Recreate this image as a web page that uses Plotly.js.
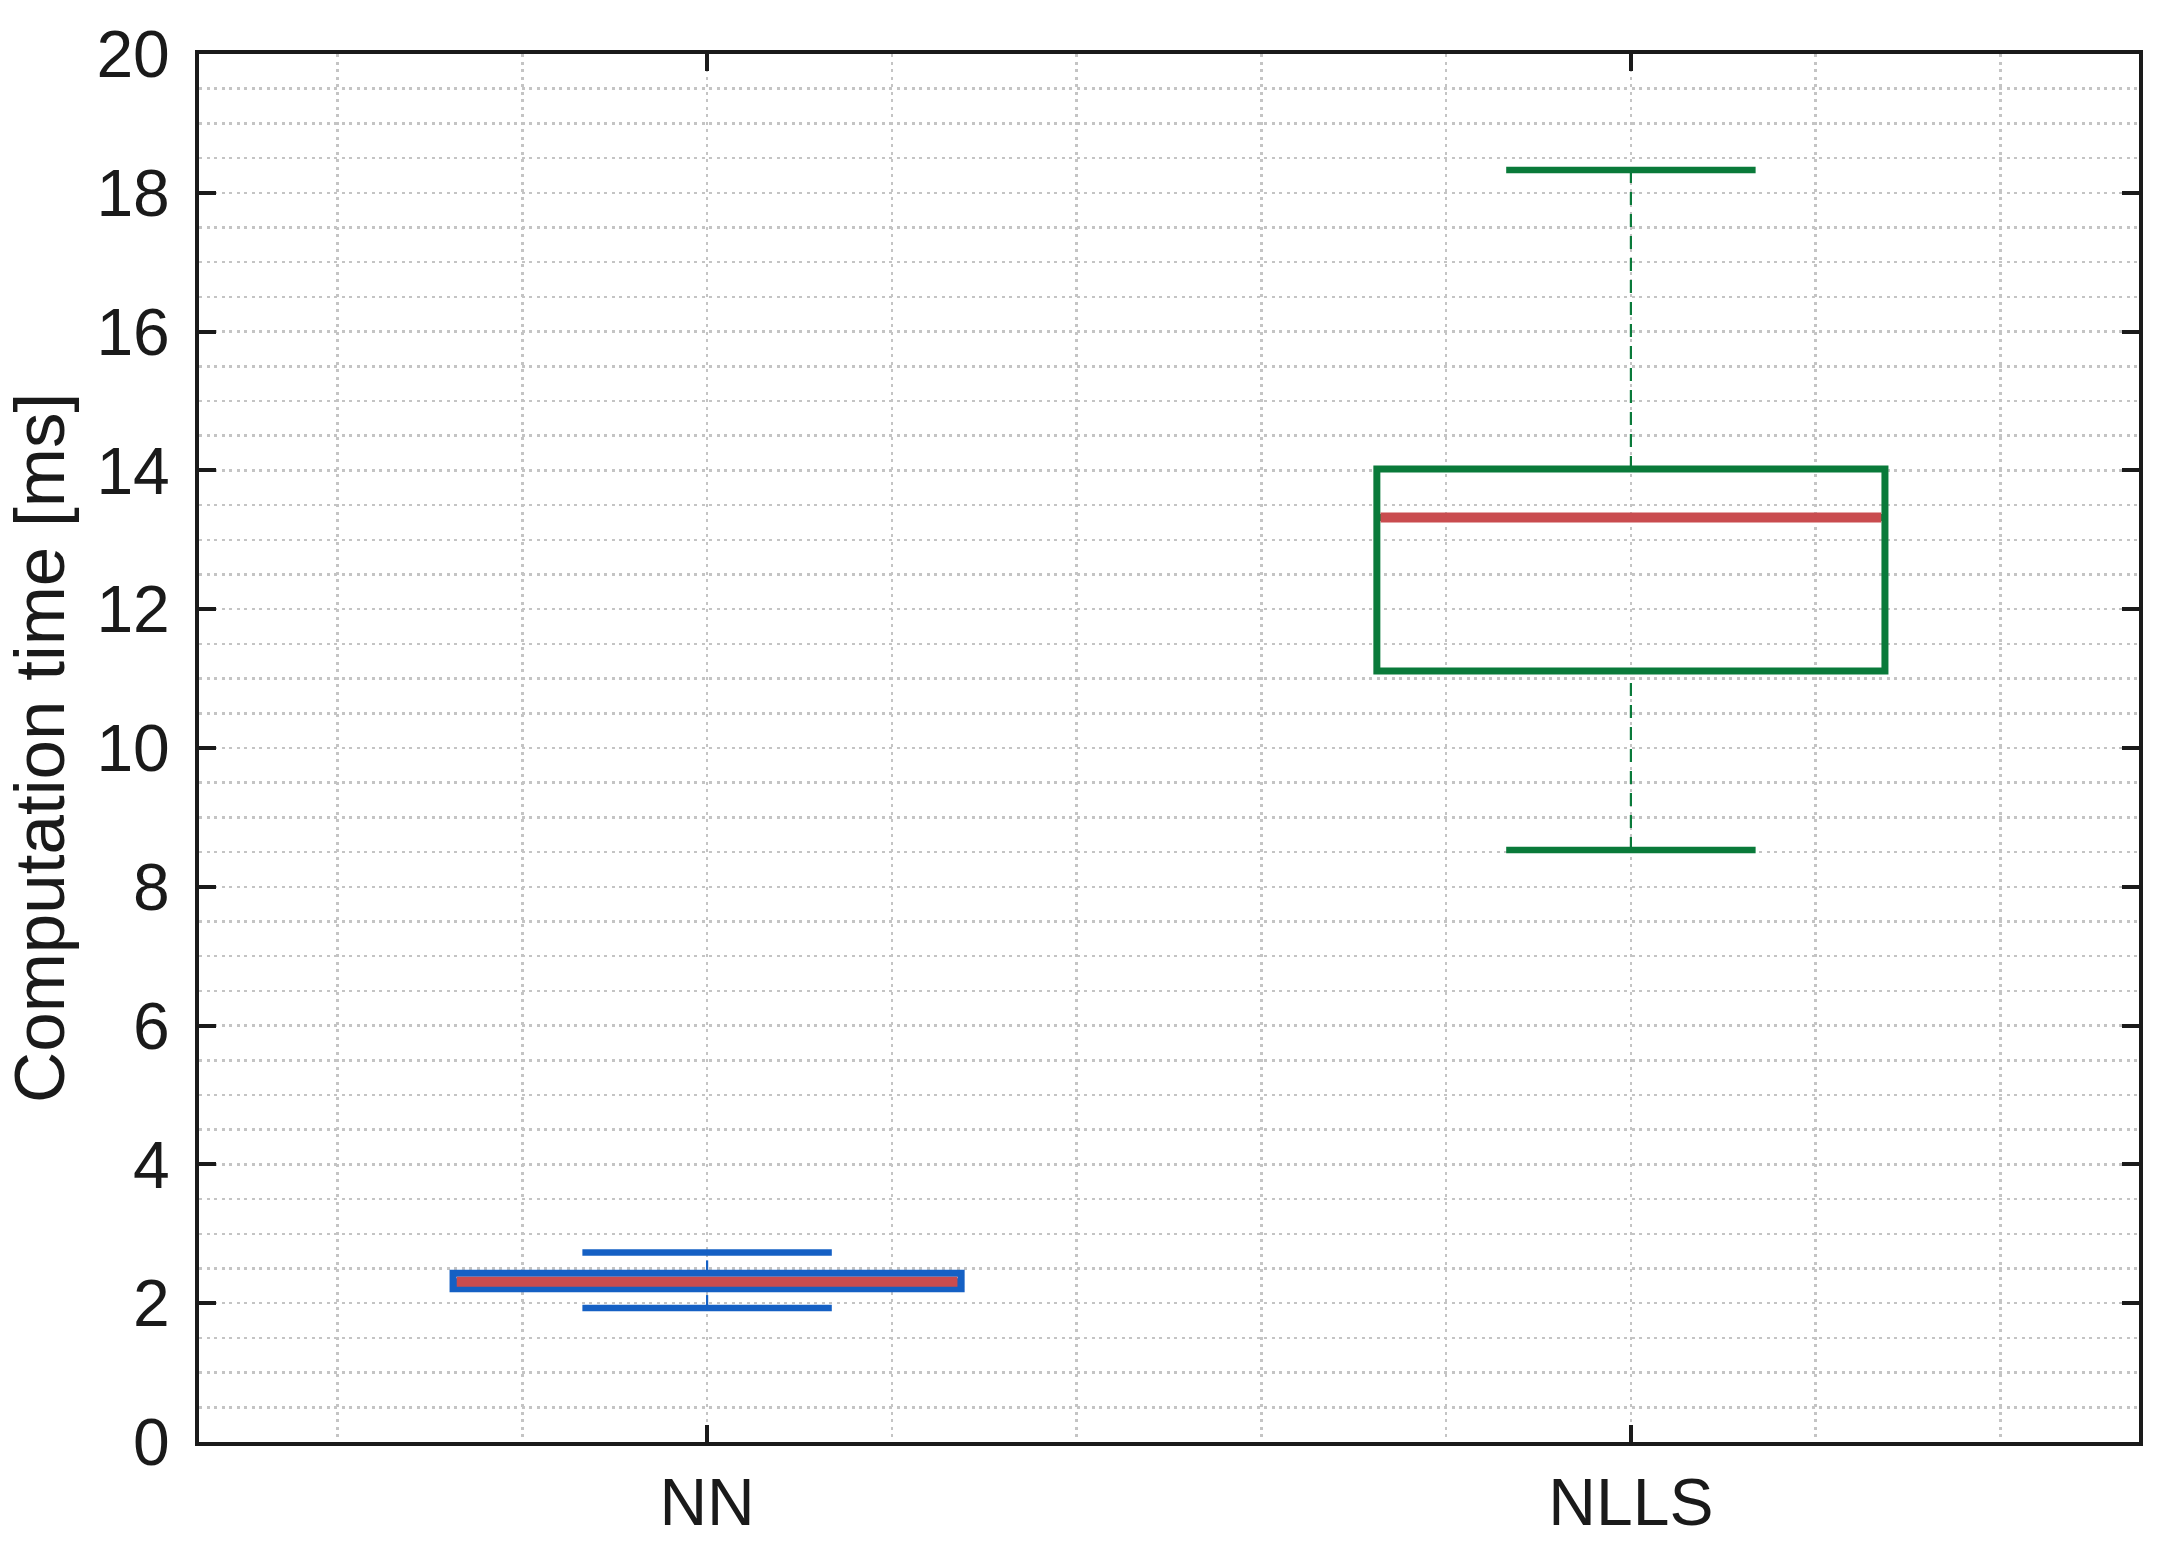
<!DOCTYPE html>
<html>
<head>
<meta charset="utf-8">
<script src="https://cdn.plot.ly/plotly-3.0.1.min.js"></script>
<style>
html,body{margin:0;padding:0;background:#fff;}
#chart{width:2166px;height:1549px;}
</style>
</head>
<body>
<div id="chart"></div>
<script>
// ---- data ----
const categories = ['NN', 'NLLS'];
const positions = [0, 1];
const lowerWhisker = [1.93, 8.53];
const q1 = [2.21, 11.11];
const median = [2.31, 13.32];
const q3 = [2.43, 14.02];
const upperWhisker = [2.73, 18.33];
const yTicks = [0, 2, 4, 6, 8, 10, 12, 14, 16, 18, 20];

// ---- style ----
const boxColors = ['#1560c4', '#0a7a3a'];
const medianColor = '#c94c4f';
const boxWidth = 0.55;
const capWidth = 0.27;
const FONT = '"Liberation Sans", Arial, Helvetica, sans-serif';

const traces = [];
positions.forEach((p, i) => {
  traces.push({
    type: 'scatter', mode: 'lines', hoverinfo: 'skip', showlegend: false,
    x: [p, p, null, p, p],
    y: [q3[i], upperWhisker[i], null, lowerWhisker[i], q1[i]],
    line: {color: boxColors[i], width: 2.2, dash: '13px,9px'}
  });
});
positions.forEach((p, i) => {
  traces.push({
    type: 'box', name: categories[i], showlegend: false,
    x: [p], q1: [q1[i]], median: [median[i]], q3: [q3[i]],
    lowerfence: [q1[i]], upperfence: [q3[i]],
    width: boxWidth, whiskerwidth: 0,
    boxpoints: false,
    line: {color: boxColors[i], width: 7},
    fillcolor: 'rgba(0,0,0,0)'
  });
});
positions.forEach((p, i) => {
  traces.push({
    type: 'scatter', mode: 'lines', hoverinfo: 'skip', showlegend: false,
    x: [p - capWidth / 2, p + capWidth / 2, null, p - capWidth / 2, p + capWidth / 2],
    y: [upperWhisker[i], upperWhisker[i], null, lowerWhisker[i], lowerWhisker[i]],
    line: {color: boxColors[i], width: 6.5}
  });
  traces.push({
    type: 'scatter', mode: 'lines', hoverinfo: 'skip', showlegend: false,
    x: [p - boxWidth / 2 + 0.004, p + boxWidth / 2 - 0.004],
    y: [median[i], median[i]],
    line: {color: medianColor, width: 10}
  });
});

const gridColor = '#c4c4c4';
const gridDash = '3px,4.5px';
const layout = {
  width: 2166, height: 1549,
  paper_bgcolor: '#ffffff', plot_bgcolor: '#ffffff',
  margin: {l: 199, r: 27, t: 54, b: 107, pad: 0},
  showlegend: false,
  font: {family: FONT, color: '#1a1a1a'},
  xaxis: {
    type: 'linear', range: [-0.55, 1.55],
    tickmode: 'array', tickvals: positions, ticktext: categories,
    ticks: 'inside', ticklen: 17, tickwidth: 4, tickcolor: '#1a1a1a',
    showline: true, linecolor: '#1a1a1a', linewidth: 4, mirror: 'ticks',
    showgrid: true, gridcolor: gridColor, gridwidth: 2.5, griddash: gridDash,
    minor: {dtick: 0.2, tick0: 0, showgrid: true, gridcolor: gridColor, gridwidth: 2.5, griddash: gridDash, ticks: ''},
    zeroline: false,
    tickfont: {family: FONT, size: 66, color: '#1a1a1a'},
    ticklabelstandoff: 0
  },
  yaxis: {
    range: [0, 20],
    tickmode: 'array', tickvals: yTicks, ticktext: yTicks.map(String),
    ticks: 'inside', ticklen: 17, tickwidth: 4, tickcolor: '#1a1a1a',
    showline: true, linecolor: '#1a1a1a', linewidth: 4, mirror: 'ticks',
    showgrid: true, gridcolor: gridColor, gridwidth: 2.5, griddash: gridDash,
    minor: {dtick: 0.5, tick0: 0, showgrid: true, gridcolor: gridColor, gridwidth: 2.5, griddash: gridDash, ticks: ''},
    zeroline: false,
    tickfont: {family: FONT, size: 66, color: '#1a1a1a'},
    ticklabelstandoff: 12,
    title: {text: 'Computation time [ms]', font: {family: FONT, size: 71, color: '#1a1a1a'}, standoff: 10}
  }
};

Plotly.newPlot('chart', traces, layout, {displayModeBar: false, staticPlot: true});
</script>
</body>
</html>
